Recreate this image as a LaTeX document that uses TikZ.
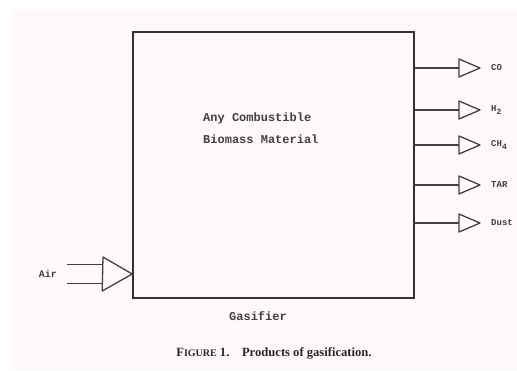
\documentclass[tikz,border=0pt]{standalone}
\usepackage{fontspec}
\setmonofont{Liberation Mono}
\newfontfamily\capfont{Liberation Serif}
\newcommand{\lowdig}[1]{\raisebox{-3.5pt}{\fontsize{8}{8}\selectfont #1}}
\begin{document}
\begin{tikzpicture}[x=1pt,y=-1pt,
  ink/.style={draw=black!80, line width=1.6pt},
  thinink/.style={draw=black!75, line width=1.3pt},
  lab/.style={font=\ttfamily\bfseries\fontsize{12}{14}\selectfont, text=black!75, inner sep=0pt},
  outlab/.style={lab, anchor=west, font=\ttfamily\bfseries\fontsize{9}{11}\selectfont}]
\useasboundingbox (0,0) rectangle (517,370);
\fill[white] (0,0) rectangle (517,370);
\fill[red!2!white] (11,10) rectangle (517,370);
% gasifier box
\node[ink, rectangle, minimum width=281pt, minimum height=266pt, inner sep=0pt] (gas) at (273.5,165) {};
\node[lab, anchor=west] (t1) at (203,118) {Any Combustible};
\node[lab, anchor=west] (t2) at (203,139) {Biomass Material};
\node[lab] (gl) at (258,316) {Gasifier};
\node[inner sep=0pt, text=black!85] (cap) at (274,353) {\capfont\bfseries\fontsize{12.6}{14}\selectfont F{\fontsize{10}{12}\selectfont IGURE} 1.\quad Products of gasification.};
% outputs
\foreach \n/\y/\t in {co/68/CO, h/110/H\lowdig{2}, ch/145/CH\lowdig{4}, tar/185/TAR, dust/223/Dust}{
  \coordinate (p\n) at (459,\y);
  \draw[thinink] (gas.east |- p\n) -- (p\n);
  \draw[thinink, line join=round] (p\n) ++(0,-9) -- ++(21,9) -- ++(-21,9) -- cycle;
  \node[outlab] (l\n) at (491,\y) {\t};
}
% air input
\coordinate (atip) at (gas.west |- 0,274);
\coordinate (abase) at (103,274);
\draw[thinink] (67,264.5) -- (abase |- 0,264.5);
\draw[thinink] (67,283.5) -- (abase |- 0,283.5);
\draw[thinink, line join=round] (abase) ++(0,-17) -- (atip) -- ++(-30,17) -- cycle;
\node[lab, anchor=east, font=\ttfamily\bfseries\fontsize{10}{12}\selectfont] (air) at (57,274) {Air};
\end{tikzpicture}
\end{document}
